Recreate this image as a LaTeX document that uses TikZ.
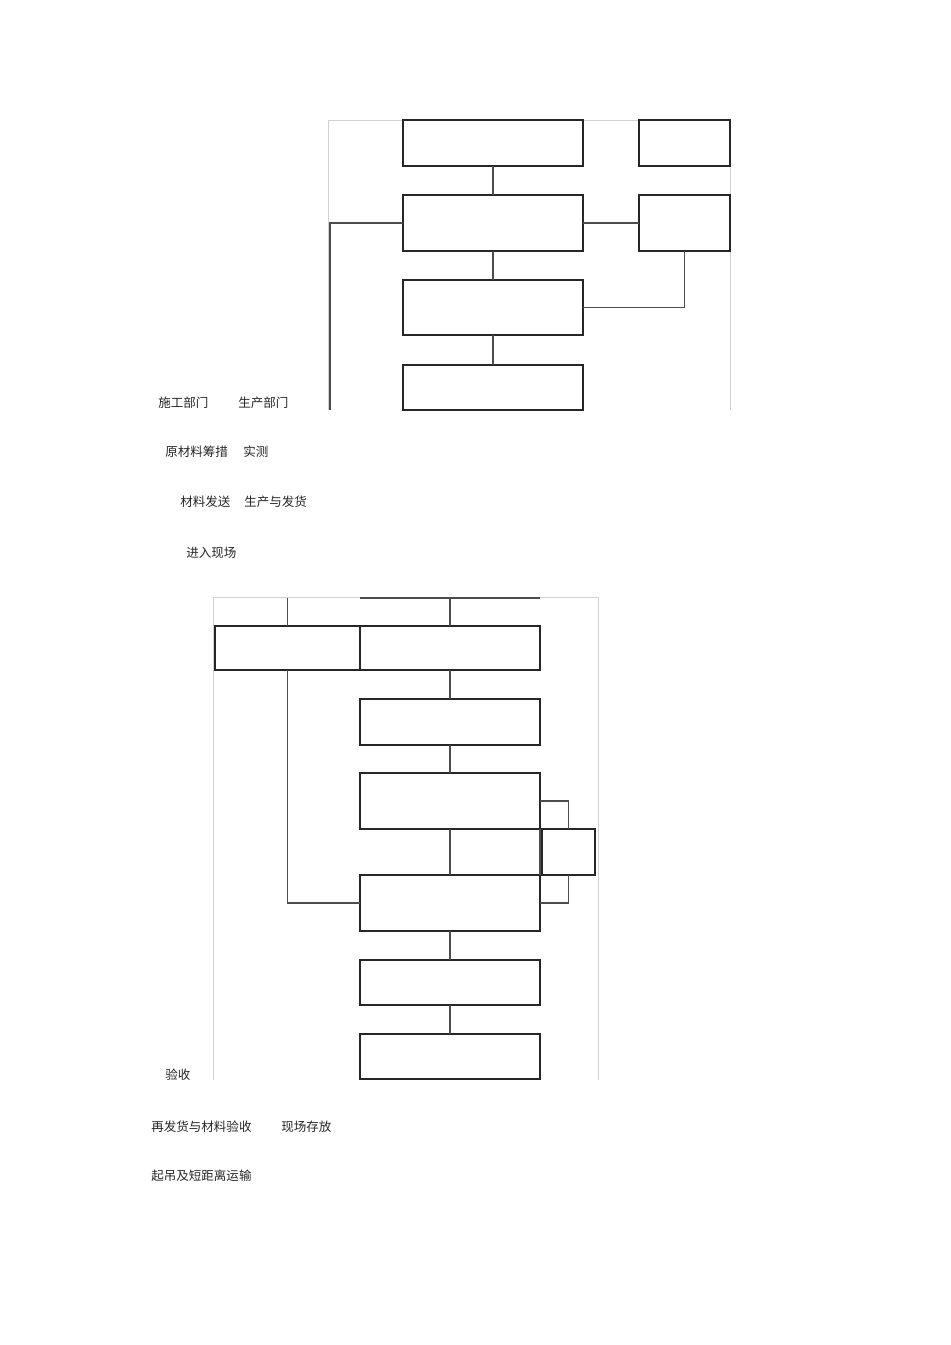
\documentclass[tikz,border=0pt]{standalone}
\usepackage{fontspec}
\newfontfamily\cjk{Noto Sans CJK SC}
\begin{document}
\begin{tikzpicture}[x=0.75pt,y=-0.75pt,
  box/.style={draw=black!85, line width=1pt, inner sep=0pt, outer sep=0pt, fill=white},
  wide/.style={box, minimum width=135pt},
  conn/.style={draw=black!70, line width=1pt},
  frame/.style={draw=black!18, line width=0.6pt},
  lbl/.style={anchor=west, inner sep=0pt, font=\cjk\fontsize{9.4pt}{11pt}\selectfont, text=black!85}]
\useasboundingbox (0,0) rectangle (950,1345);
\fill[white] (0,0) rectangle (950,1345);
% ---------- top diagram ----------
\coordinate (f1) at (328,120); \coordinate (f2) at (730,120);
\coordinate (f3) at (328,410); \coordinate (f4) at (730,410);
\draw[frame] (f3) -- (f1) -- (f2) -- (f4);
\node[wide, minimum height=34.5pt] (A) at (493,143) {};
\node[box, minimum width=68.25pt, minimum height=34.5pt] (B) at (684.5,143) {};
\node[wide, minimum height=42pt] (C) at (493,223) {};
\node[box, minimum width=68.25pt, minimum height=42pt] (D) at (684.5,223) {};
\node[wide, minimum height=41.25pt] (E) at (493,307.5) {};
\node[wide, minimum height=33.75pt, line width=1.4pt] (F) at (493,387.5) {};
\coordinate (cl) at (330,410);
\draw[conn] (A.south) -- (C.north);
\draw[conn] (C.south) -- (E.north);
\draw[conn] (E.south) -- (F.north);
\draw[conn] (C.east) -- (D.west);
\draw[conn] (D.south) |- (E.east);
\draw[conn] (C.west) -| (cl);
% ---------- top labels ----------
\node[lbl] (t1) at (158,403) {施工部门};
\node[lbl] (t2) at (238,403) {生产部门};
\node[lbl] (t3) at (165,452) {原材料筹措};
\node[lbl] (t4) at (243,452) {实测};
\node[lbl] (t5) at (180,502) {材料发送};
\node[lbl] (t6) at (244,502) {生产与发货};
\node[lbl] (t7) at (186,553) {进入现场};
% ---------- bottom diagram ----------
\coordinate (b1) at (213,597); \coordinate (b2) at (598,597);
\coordinate (b3) at (213,1080); \coordinate (b4) at (598,1080);
\draw[frame] (b3) -- (b1) -- (b2) -- (b4);
\coordinate (u1) at (360,598); \coordinate (u2) at (540,598);
\coordinate (g0) at (287.5,598); \coordinate (h0) at (450,598);
\draw[conn] (u1) -- (u2);
\node[box, minimum width=108.75pt, minimum height=33pt] (G) at (287.5,648) {};
\node[wide, minimum height=33pt] (H) at (450,648) {};
\node[wide, minimum height=34.5pt] (I) at (450,722) {};
\node[wide, minimum height=42pt] (J) at (450,801) {};
\node[box, minimum width=39.75pt, minimum height=34.5pt] (K) at (568.5,852) {};
\node[wide, minimum height=42pt] (L) at (450,903) {};
\node[wide, minimum height=33.75pt] (M) at (450,982.5) {};
\node[wide, minimum height=33.75pt] (N) at (450,1056.5) {};
\draw[conn] (G.north) -- (g0);
\draw[conn] (H.north) -- (h0);
\draw[conn] (H.south) -- (I.north);
\draw[conn] (I.south) -- (J.north);
\draw[conn] (J.south) -- (L.north);
\draw[conn] (J.south east) -- (L.north east);
\draw[conn] (J.east) -| (K.north);
\draw[conn] (K.south) |- (L.east);
\draw[conn] (G.south) |- (L.west);
\draw[conn] (L.south) -- (M.north);
\draw[conn] (M.south) -- (N.north);
% ---------- bottom labels ----------
\node[lbl] (s1) at (165,1075) {验收};
\node[lbl] (s2) at (151,1127) {再发货与材料验收};
\node[lbl] (s3) at (281,1127) {现场存放};
\node[lbl] (s4) at (151,1176) {起吊及短距离运输};
\end{tikzpicture}
\end{document}
